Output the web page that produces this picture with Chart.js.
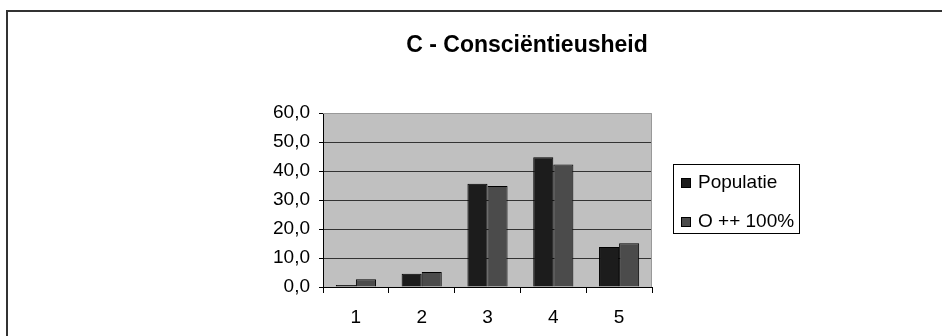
<!DOCTYPE html>
<html>
<head>
<meta charset="utf-8">
<script src="https://cdn.jsdelivr.net/npm/chart.js@4"></script>
<style>
  html, body { margin: 0; padding: 0; background: #fff; }
  #wrap { width: 942px; height: 336px; }
</style>
</head>
<body>
<div id="wrap"><canvas id="chart" width="942" height="336"></canvas></div>
<script>
const chartTitle = "C - Consciëntieusheid";
const categories = ["1", "2", "3", "4", "5"];
const populatie = [0.7, 4.6, 35.6, 44.7, 13.8];
const oPlusPlus = [2.7, 5.2, 34.8, 42.2, 15.1];
const seriesNames = ["Populatie", "O ++ 100%"];
const seriesColors = ["#1c1c1c", "#4b4b4b"];

const FONT = "Arial, 'Liberation Sans', sans-serif";

// frame, title and legend box drawn straight on the canvas
const decorations = {
  id: "decorations",
  beforeDraw(chart) {
    const ctx = chart.ctx;
    const a = chart.chartArea;
    ctx.save();
    ctx.fillStyle = "#fff";
    ctx.fillRect(0, 0, chart.width, chart.height);
    ctx.fillStyle = "#c0c0c0";
    ctx.fillRect(a.left, a.top, a.right - a.left, a.bottom - a.top);
    ctx.restore();
  },
  afterDraw(chart) {
    const ctx = chart.ctx;
    const a = chart.chartArea;
    ctx.save();
    // outer frame
    ctx.strokeStyle = "#333";
    ctx.lineWidth = 2;
    ctx.strokeRect(7, 11, chart.width + 10, chart.height + 10);

    // plot area border (top and right)
    ctx.strokeStyle = "#999";
    ctx.lineWidth = 1;
    ctx.beginPath();
    ctx.moveTo(a.left, a.top + 0.5);
    ctx.lineTo(a.right - 0.5, a.top + 0.5);
    ctx.lineTo(a.right - 0.5, a.bottom);
    ctx.stroke();

    // title
    ctx.fillStyle = "#000";
    ctx.font = "bold 23px " + FONT;
    ctx.textAlign = "center";
    ctx.textBaseline = "middle";
    ctx.fillText(chartTitle, 527, 46);

    // legend
    const lx = 673, ly = 164, lw = 126, lh = 69;
    ctx.strokeStyle = "#000";
    ctx.lineWidth = 1;
    ctx.strokeRect(lx + 0.5, ly + 0.5, lw, lh);
    ctx.font = "19px " + FONT;
    ctx.textAlign = "left";
    chart.data.datasets.forEach((ds, i) => {
      const cy = ly + 19 + i * 39;
      ctx.fillStyle = ds.backgroundColor;
      ctx.fillRect(lx + 8, cy - 5, 10, 10);
      ctx.strokeStyle = "#000";
      ctx.strokeRect(lx + 8.5, cy - 4.5, 9, 9);
      ctx.fillStyle = "#000";
      ctx.fillText(ds.label, lx + 25, cy);
    });
    ctx.restore();
  }
};

new Chart(document.getElementById("chart"), {
  type: "bar",
  data: {
    labels: categories,
    datasets: [
      { label: seriesNames[0], data: populatie, backgroundColor: seriesColors[0], borderColor: "#000", borderWidth: 1 },
      { label: seriesNames[1], data: oPlusPlus, backgroundColor: seriesColors[1], borderColor: "#000", borderWidth: 1 }
    ]
  },
  options: {
    responsive: false,
    animation: false,
    layout: { padding: { left: 263, right: 290, top: 113, bottom: 0 } },
    datasets: { bar: { categoryPercentage: 0.61, barPercentage: 1.0 } },
    plugins: {
      legend: { display: false },
      title: { display: false },
      tooltip: { enabled: false }
    },
    scales: {
      x: {
        afterFit: (s) => { s.height = 49; },
        grid: { offset: true, drawOnChartArea: false, tickLength: 6, tickColor: "#000" },
        border: { color: "#000", width: 1 },
        ticks: { color: "#000", font: { family: FONT, size: 19 }, padding: 13 }
      },
      y: {
        min: 0,
        max: 60,
        afterFit: (s) => { s.width = 60; },
        grid: {
          tickLength: 4,
          tickColor: "#000",
          color: (c) => (c.tick && (c.tick.value === 0 || c.tick.value === 60)) ? "rgba(0,0,0,0)" : "#333"
        },
        border: { color: "#000", width: 1 },
        ticks: {
          stepSize: 10,
          color: "#000",
          font: { family: FONT, size: 19 },
          padding: 9,
          callback: (v) => v.toFixed(1).replace(".", ",")
        }
      }
    }
  },
  plugins: [decorations]
});
</script>
</body>
</html>
